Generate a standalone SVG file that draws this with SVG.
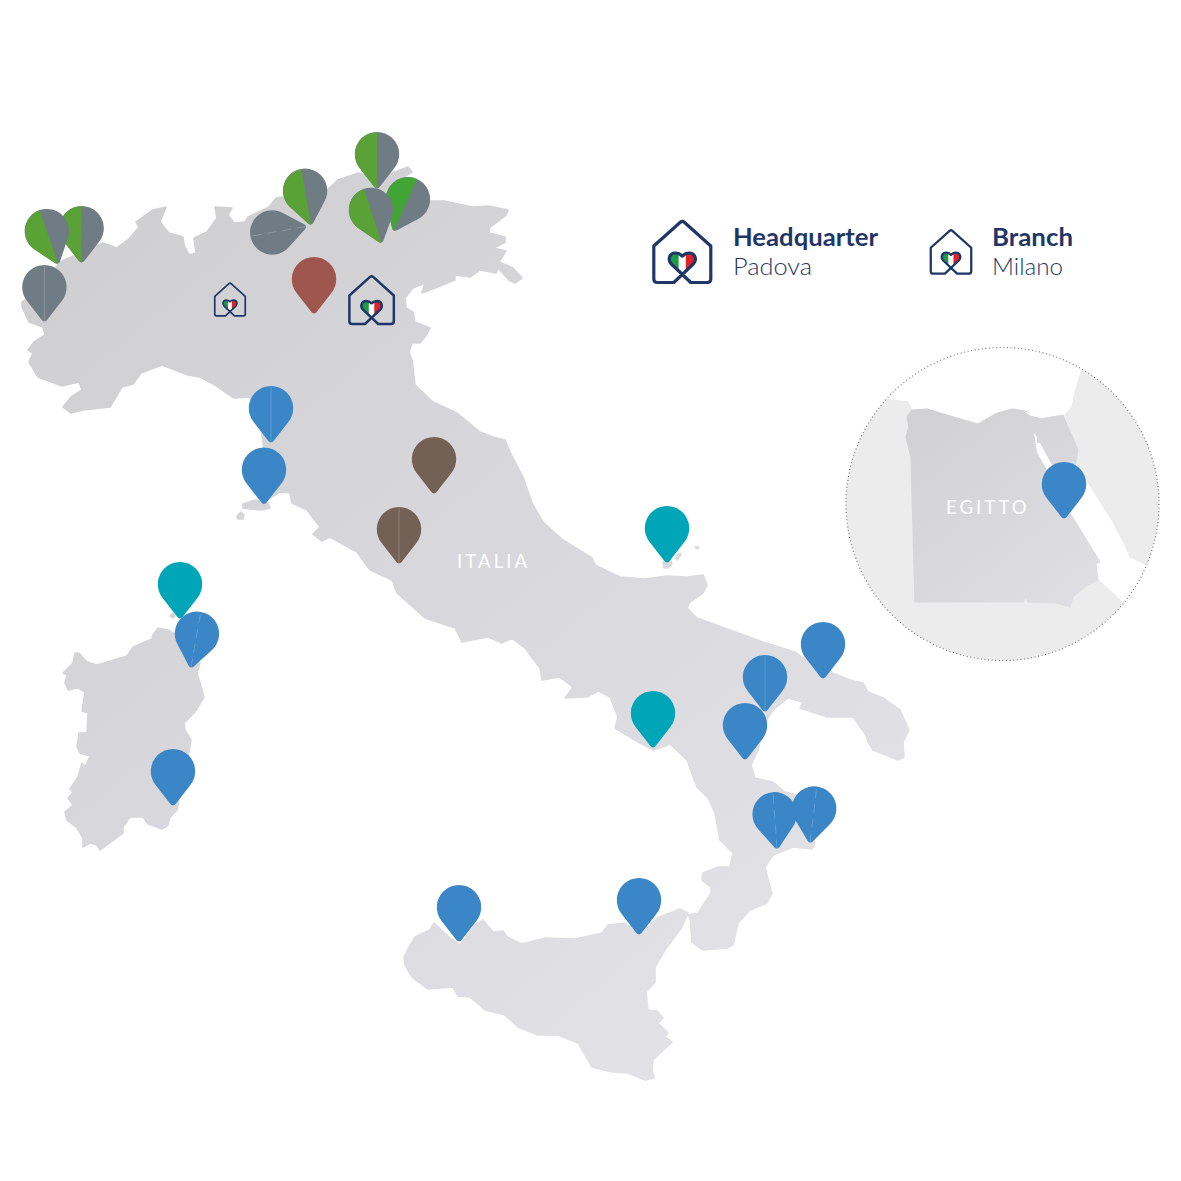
<svg xmlns="http://www.w3.org/2000/svg" width="1181" height="1181" viewBox="0 0 1181 1181">
<style>
.blue{fill:#3a86c6}.teal{fill:#00a5b8}.brown{fill:#746155}.gray{fill:#707c84}.green{fill:#5aa136}.lime{fill:#41a535}.red{fill:#9f564e}
.seam{stroke:#fff;stroke-opacity:.2;stroke-width:1;fill:none}
.dash{stroke-dasharray:9 6}
.land{fill:url(#landGrad);stroke:url(#landGrad);stroke-width:1.6;stroke-linejoin:round}
.side{fill:#ececed;stroke:#ececed;stroke-width:1.2;stroke-linejoin:round}
.head{font-family:Lato,"Liberation Sans",sans-serif;font-weight:700;font-size:24px;fill:#1f3767}
.sub{font-family:Lato,"Liberation Sans",sans-serif;font-weight:300;font-size:24px;fill:#1f3767}
.tag{font-family:Lato,"Liberation Sans",sans-serif;font-weight:400;font-size:18.5px;fill:#fff;letter-spacing:3.1px}
.line{fill:none;stroke:#1f3767;stroke-width:3.2;stroke-linejoin:round;stroke-linecap:round}
</style>
<defs>
<linearGradient id="landGrad" gradientUnits="userSpaceOnUse" x1="150" y1="230" x2="760" y2="960"><stop offset="0" stop-color="#d0cfd2"/><stop offset="1" stop-color="#e1e1e6"/></linearGradient>
<linearGradient id="egyptGrad" gradientUnits="userSpaceOnUse" x1="920" y1="410" x2="1080" y2="610"><stop offset="0" stop-color="#d1d0d3"/><stop offset="1" stop-color="#dfdfe3"/></linearGradient>
<clipPath id="circleClip"><circle cx="1002.5" cy="504" r="156.5"/></clipPath>
<clipPath id="heartClip"><path d="M0,53L-11,43C-15,39-13,32-7,32C-4,32-2,33 0,35C2,33 4,32 7,32C13,32 15,39 11,43Z"/></clipPath>
<path id="pin" d="M0,0C-1,0-2-.6-2.6-1.4L-17-20A22.2,22.2 0 1 1 17-20L2.6-1.4C2-.6 1,0 0,0Z"/>
<path id="pinL" d="M0,0C-1,0-2-.6-2.6-1.4L-17-20A22.2,22.2 0 0 1 0-56.2Z"/>
<g id="house">
<g clip-path="url(#heartClip)"><rect x="-16" y="30" width="12.5" height="25" fill="#1e9b46"/><rect x="-3.5" y="30" width="7" height="25" fill="#fff"/><rect x="3.5" y="30" width="12.5" height="25" fill="#e0222a"/></g>
<path class="line" d="M-11,43L8.5,61.5H25Q28.5,61.5 28.5,58V25L2,1.2Q0-.5-2,1.2L-28.5,25V58Q-28.5,61.5-25,61.5H-8.5L11,43C15,39 13,32 7,32C4,32 2,33 0,35C-2,33-4,32-7,32C-13,32-15,39-11,43Z"/>
</g>
</defs>
<rect width="1181" height="1181" fill="#fff"/>
<g id="italy" class="land">
<path id="mainland" d="M22,307L22,302L40,290L60,262L103,243L117,248L129,239L139,227L136,222L153,210L166,207L160,222L169,233L183,237L184,245L189,255L196,253L194,238L207,232L217,218L215,207L232,208L228,215L234,223L245,222L248,217L269,207L276,198L327,190L338,180L358,173L379,178L408,167L412,172L396,182L430,201L444,201L472,207L489,206L508,210L506,215L489,228L489,233L505,237L505,242L494,248L506,251L499,262L513,268L522,278L515,283L509,280L498,268L496,273L480,270L470,277L455,275L455,280L430,290L422,293L425,283L413,288L405,298L406,308L413,312L415,322L430,328L425,337L420,343L412,343L409,352L412,360L415,385L433,402L457,413L480,432L493,437L505,440L510,452L523,477L532,503L543,522L563,540L592,558L595,565L620,577L645,579L667,576L687,577L703,575L707,585L703,593L690,602L687,608L697,618L763,642L795,652L803,658L830,672L850,680L863,683L868,692L883,698L900,710L909,730L903,742L904,757L898,760L873,750L868,742L866,735L853,717L827,717L800,708L803,702L788,698L773,710L765,722L758,750L751,765L755,778L773,782L785,792L797,795L815,843L812,849L793,847L773,855L765,867L770,887L772,893L767,903L750,910L738,923L733,945L727,948L703,950L692,942L690,918L688,915L698,913L711,893L711,887L702,880L703,873L718,867L730,867L733,853L720,840L715,813L708,798L697,787L687,760L670,744L660,748L653,750L640,743L615,728L618,717L610,697L598,691L587,697L565,698L573,687L560,677L542,680L540,668L525,648L512,638L502,643L488,637L462,642L455,628L425,618L397,593L392,580L370,570L357,552L330,537L322,541L313,534L320,527L307,510L292,503L290,493L280,492L270,498L265,470L263,440L258,415L250,397L234,398L215,385L200,377L188,375L162,365L141,373L133,384L122,387L110,407L83,410L71,413L63,407L71,397L82,390L79,382L62,386L38,377L29,362L33,353L28,350L34,342L45,335L43,327L29,322Z"/>
<path id="elba" d="M243,504L255,500L268,503L270,508L262,510L250,509L243,508Z"/>
<path id="giglio" d="M237,516L241,512L244,515L243,519L238,519Z"/>
<path id="tremiti" d="M663,562L670,558L672,564L668,568L664,568Z"/>
<path d="M675,558L680,553L681,555L677,560Z"/>
<path d="M695,547L699,547L697,549Z"/>
<path id="sardinia" d="M153,635L158,628L168,630L185,640L200,663L197,673L200,683L204,697L195,712L184,723L185,730L191,740L187,763L180,795L177,810L170,817L168,825L162,829L148,824L143,817L130,817L123,827L123,833L100,850L97,845L90,843L83,847L83,838L77,828L67,820L65,812L73,805L68,798L73,792L70,789L78,777L82,763L85,767L90,756L80,753L77,747L79,733L87,733L88,713L82,711L85,692L78,688L68,690L65,683L67,675L63,673L73,663L75,653L79,653L87,662L97,665L127,656L133,647L152,639Z"/>
<path d="M170,616L173,613L175,616L173,618Z"/>
<path id="sicily" d="M404,957L408,949L415,937L430,930L434,923L450,938L460,945L475,925L483,920L493,932L503,931L507,937L522,944L545,938L575,939L602,933L608,925L625,923L640,935L657,918L680,909L688,913L682,927L665,950L655,967L655,982L646,992L648,1010L657,1011L663,1018L658,1023L668,1033L665,1037L672,1042L653,1060L652,1070L654,1078L645,1080L628,1073L612,1072L592,1067L578,1043L558,1035L538,1035L518,1027L505,1015L485,1010L470,997L458,996L453,987L428,989L412,977L405,965Z"/>
</g>
<text id="label-italia" class="tag" x="457" y="568">ITALIA</text>
<g id="egypt-inset">
<g clip-path="url(#circleClip)">
<path class="side" d="M885,399L908,402L912,410L1098,580L1107,588L1122,602L1181,640V700H800V399Z"/>
<path class="side" d="M1082,368L1075,393L1072,407L1065,415L1078,450L1076,463L1113,522L1125,545L1130,557L1147,565L1181,580V340H1090Z"/>
<path id="egypt" fill="url(#egyptGrad)" stroke="url(#egyptGrad)" stroke-width="1.2" stroke-linejoin="round" d="M912,410L927,409L957,418L978,424L997,413L1012,409L1025,411L1040,419L1063,415L1078,450L1076,462L1068,490L1070,513L1100,562L1096,564L1098,580L1087,585L1073,597L1070,607L1057,603L1028,602L1026,597L1023,602L915,602L911,457L906,437L909,427L907,417Z"/>
<path fill="#fff" d="M1034,433L1037,437L1037,443L1040,443L1053,467L1048,472L1037,452Z"/>
<path fill="#fff" d="M1025,412L1031,413L1037,417L1031,416Z"/>
</g>
<circle cx="1002.5" cy="504" r="156.5" fill="none" stroke="#777" stroke-width="1.2" stroke-dasharray="1 2.6"/>
<text id="label-egitto" class="tag" x="946" y="514">EGITTO</text>
</g>
<g id="sites" transform="translate(0,.5)">
<g id="site-1" transform="translate(377,188)"><use href="#pin" class="gray"/><use href="#pinL" class="green"/></g>
<g id="site-2" transform="translate(306,226) rotate(-100)"><use href="#pin" class="gray"/><path class="seam dash" d="M0,0V-56"/></g>
<g id="site-3" transform="translate(311,224) rotate(-10)"><use href="#pin" class="gray"/><use href="#pinL" class="green"/></g>
<g id="site-4" transform="translate(394,230) rotate(24)"><use href="#pin" class="gray"/><use href="#pinL" class="lime"/></g>
<g id="site-5" transform="translate(381.5,242) rotate(-18)"><use href="#pin" class="gray"/><use href="#pinL" class="green"/></g>
<g id="site-6" transform="translate(81.6,262)"><use href="#pin" class="gray"/><use href="#pinL" class="green"/></g>
<g id="site-7" transform="translate(58,263) rotate(-19)"><use href="#pin" class="gray"/><use href="#pinL" class="green"/></g>
<g id="site-8" transform="translate(44.4,321)"><use href="#pin" class="gray"/><path class="seam" d="M0,0V-56"/></g>
<g id="site-9" transform="translate(314,313)"><use href="#pin" class="red"/></g>
<g id="site-10" transform="translate(271,442)"><use href="#pin" class="blue"/><path class="seam" d="M0,0V-56"/></g>
<g id="site-11" transform="translate(264,503.5)"><use href="#pin" class="blue"/></g>
<g id="site-12" transform="translate(434,493)"><use href="#pin" class="brown"/></g>
<g id="site-13" transform="translate(399,563)"><use href="#pin" class="brown"/><path class="seam" d="M0,0V-56"/></g>
<g id="site-14" transform="translate(667,562)"><use href="#pin" class="teal"/></g>
<g id="site-15" transform="translate(653,747)"><use href="#pin" class="teal"/></g>
<g id="site-16" transform="translate(180,618)"><use href="#pin" class="teal"/></g>
<g id="site-17" transform="translate(191,667) rotate(10)"><use href="#pin" class="blue"/><path class="seam dash" d="M0,0V-56"/></g>
<g id="site-18" transform="translate(173,805)"><use href="#pin" class="blue"/></g>
<g id="site-19" transform="translate(823,678)"><use href="#pin" class="blue"/></g>
<g id="site-20" transform="translate(765,711)"><use href="#pin" class="blue"/><path class="seam" d="M0,0V-56"/></g>
<g id="site-21" transform="translate(745,759)"><use href="#pin" class="blue"/></g>
<g id="site-22" transform="translate(777,848) rotate(-4)"><use href="#pin" class="blue"/><path class="seam dash" d="M0,0V-56"/></g>
<g id="site-23" transform="translate(810,842) rotate(7)"><use href="#pin" class="blue"/><path class="seam dash" d="M0,0V-56"/></g>
<g id="site-24" transform="translate(459,941)"><use href="#pin" class="blue"/></g>
<g id="site-25" transform="translate(639,934)"><use href="#pin" class="blue"/></g>
<g id="site-26" transform="translate(1064,518)"><use href="#pin" class="blue"/></g>
</g>
<g id="office-milano" transform="translate(230,283) scale(.535)"><use href="#house"/></g>
<g id="office-padova" transform="translate(371.6,276) scale(.78)"><use href="#house"/></g>
<g id="legend-headquarter">
<g transform="translate(682.3,221)"><use href="#house"/></g>
<text class="head" x="733" y="246" textLength="145" lengthAdjust="spacingAndGlyphs">Headquarter</text>
<text class="sub" x="733" y="275" textLength="79" lengthAdjust="spacingAndGlyphs">Padova</text>
</g>
<g id="legend-branch">
<g transform="translate(951,230) scale(.71)"><use href="#house"/></g>
<text class="head" x="992" y="246" textLength="81" lengthAdjust="spacingAndGlyphs">Branch</text>
<text class="sub" x="992" y="275" textLength="71" lengthAdjust="spacingAndGlyphs">Milano</text>
</g>
</svg>
